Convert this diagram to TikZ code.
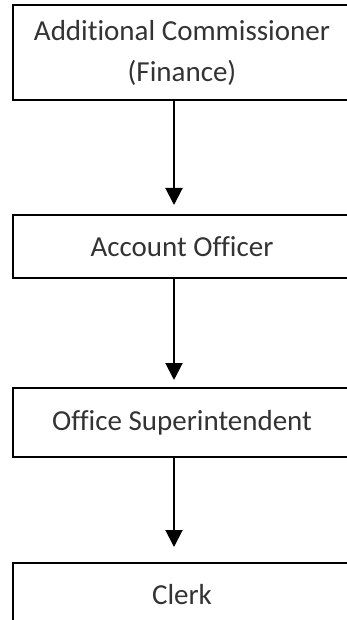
\documentclass[tikz,border=0pt]{standalone}
\usepackage{fontspec}
\setmainfont{Carlito}[Ligatures=NoCommon]
\usetikzlibrary{arrows.meta}
\begin{document}
\begin{tikzpicture}[x=1pt, y=-1pt,
        post/.style={draw, line width=1.8pt, minimum width=338pt, inner sep=0pt,
            align=center, text=black!80, font=\fontsize{29}{41}\selectfont},
        arrow/.style={-{Triangle[length=17pt, width=17pt]}, line width=2pt}
    ]
        \useasboundingbox (0,0) rectangle (347,620);
        \clip (0,0) rectangle (347,620);

        % Posts
        \node[post, minimum height=95pt] (B1) at (182,52.5) {\raisebox{-4pt}{Additional Commissioner}\\\raisebox{-4pt}{(Finance)}};
        \node[post, minimum height=63pt] (B2) at (182,246.5) {Account Officer};
        \node[post, minimum height=69pt] (B3) at (182,422.5) {Office Superintendent};
        \node[post, minimum height=63pt] (B4) at (182,594.5) {Clerk};

        % Arrow tips
        \coordinate (T2) at (174,205);
        \coordinate (T3) at (174,380);
        \coordinate (T4) at (174,547);

        % Verbindungen
        \foreach \a/\b in {1/2, 2/3, 3/4}
            \draw[arrow] (B\a.south -| T\b) -- (T\b);

    \end{tikzpicture}
\end{document}
